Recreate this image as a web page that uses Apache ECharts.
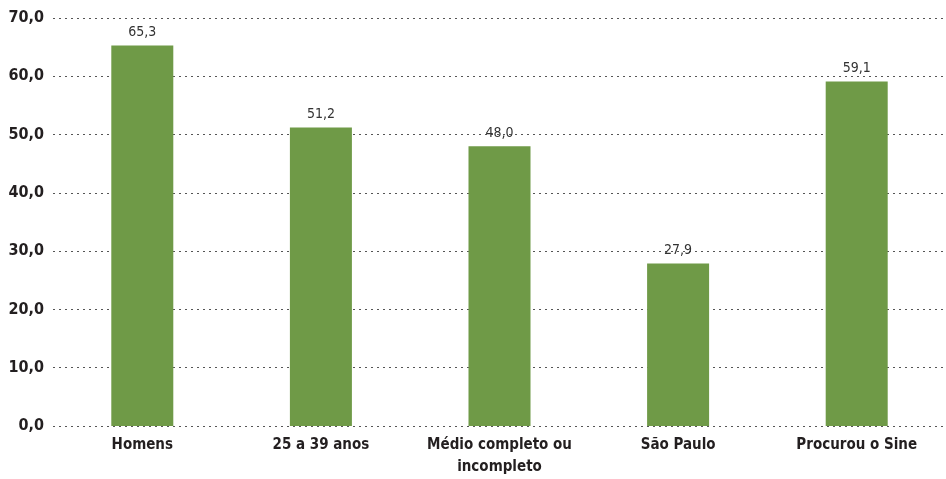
<!DOCTYPE html>
<html>
<head>
<meta charset="utf-8">
<script src="https://cdn.jsdelivr.net/npm/echarts@6/dist/echarts.min.js"></script>
<style>
  html, body { margin: 0; padding: 0; background: #fff; }
  #chart { width: 946px; height: 479px; }
</style>
</head>
<body>
<div id="chart"></div>
<script>
var categories = ['Homens', '25 a 39 anos', 'Médio completo ou\nincompleto', 'São Paulo', 'Procurou o Sine'];
var values = [65.3, 51.2, 48.0, 27.9, 59.1];

var fontFam = '"DejaVu Sans Condensed", "Liberation Sans Narrow", sans-serif';
var fmt = function (v) { return v.toFixed(1).replace('.', ','); };

var myChart = echarts.init(document.getElementById('chart'));
myChart.setOption({
    animation: false,
    grid: {left: 53, right: 0, top: 18, bottom: 53},
    xAxis: {
        type: 'category',
        data: categories,
        axisLine: {show: false},
        axisTick: {show: false},
        axisLabel: {
            interval: 0,
            color: '#231f20',
            fontFamily: fontFam,
            fontWeight: 'bold',
            fontSize: 15,
            lineHeight: 22,
            margin: 8
        }
    },
    yAxis: {
        type: 'value',
        min: 0,
        max: 70,
        interval: 10,
        axisLine: {show: false},
        axisTick: {show: false},
        axisLabel: {
            color: '#231f20',
            fontFamily: fontFam,
            fontWeight: 'bold',
            fontSize: 16,
            margin: 9,
            formatter: fmt
        },
        splitLine: {lineStyle: {color: '#555', type: [2, 4], width: 1}}
    },
    series: [{
        type: 'bar',
        data: values,
        barWidth: 62,
        itemStyle: {color: '#6f9a47'},
        label: {
            show: true,
            position: 'top',
            distance: 6,
            color: '#333',
            fontFamily: fontFam,
            fontSize: 14,
            formatter: function (p) { return fmt(p.value); }
        }
    }]
});
</script>
</body>
</html>
